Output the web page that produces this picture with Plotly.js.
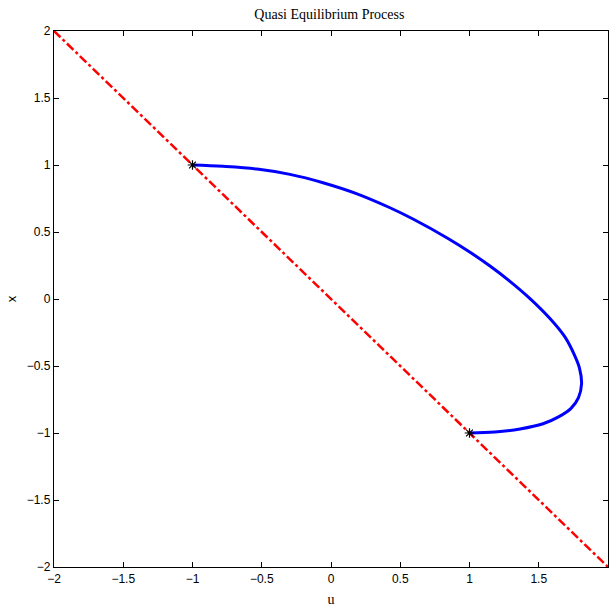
<!DOCTYPE html>
<html>
<head>
<meta charset="utf-8">
<script src="https://cdn.plot.ly/plotly-3.0.1.min.js"></script>
<style>body{margin:0;padding:0;background:#fff}#plot{width:610px;height:610px}</style>
</head>
<body>
<div id="plot"></div>
<script>
// Quasi-equilibrium path (u, x)
var pathU = [-1.0, -0.780, -0.534, -0.296, -0.058, 0.188, 0.426, 0.592, 0.845, 1.004, 1.148, 1.292, 1.437, 1.581, 1.690, 1.762, 1.794, 1.809, 1.787, 1.733, 1.646, 1.531, 1.365, 1.184, 1.0];
var pathX = [1.0, 0.990, 0.970, 0.930, 0.868, 0.785, 0.681, 0.597, 0.452, 0.349, 0.246, 0.132, 0.003, -0.146, -0.285, -0.428, -0.515, -0.632, -0.736, -0.816, -0.878, -0.931, -0.970, -0.993, -1.0];
// Equilibrium line x = -u
var lineU = [-2, 2];
var lineX = [2, -2];
// Start / end points
var markU = [-1, 1];
var markX = [1, -1];
var tickVals = [-2, -1.5, -1, -0.5, 0, 0.5, 1, 1.5, 2];
var tickText = ['\u22122', '\u22121.5', '\u22121', '\u22120.5', '0', '0.5', '1', '1.5', '2'];

var traces = [
  {x: lineU, y: lineX, mode: 'lines', line: {color: '#ff0000', width: 2.5, dash: 'dashdot'}, hoverinfo: 'skip'},
  {x: pathU, y: pathX, mode: 'lines', line: {color: '#0000ff', width: 3, shape: 'spline', smoothing: 1}},
  {x: markU, y: markX, mode: 'markers', marker: {symbol: 'asterisk-open', size: 8, color: '#000', line: {color: '#000', width: 1.2}}}
];
var axisCommon = {
  range: [-2, 2], tickvals: tickVals, ticktext: tickText,
  ticks: 'inside', ticklen: 5, tickcolor: '#000', tickwidth: 1,
  showline: true, linecolor: '#000', linewidth: 1.2, mirror: 'ticks',
  showgrid: false, zeroline: false,
  tickfont: {family: 'Liberation Sans, Arial, sans-serif', size: 12, color: '#000'}
};
var layout = {
  width: 610, height: 610,
  margin: {l: 54, r: 2, t: 31, b: 43},
  paper_bgcolor: '#fff', plot_bgcolor: '#fff',
  showlegend: false,
  title: {text: 'Quasi Equilibrium Process', font: {family: 'Liberation Serif, Times New Roman, serif', size: 14, color: '#000'}, x: 0.54, xanchor: 'center', y: 0.977, yanchor: 'middle'},
  xaxis: Object.assign({}, axisCommon, {title: {text: 'u', font: {family: 'Liberation Serif, serif', size: 14, color: '#000'}, standoff: 9}}),
  yaxis: Object.assign({}, axisCommon, {title: {text: 'x', font: {family: 'Liberation Sans, sans-serif', size: 13, color: '#000'}, standoff: 7}})
};
Plotly.newPlot('plot', traces, layout, {displayModeBar: false, staticPlot: true});
</script>
</body>
</html>
